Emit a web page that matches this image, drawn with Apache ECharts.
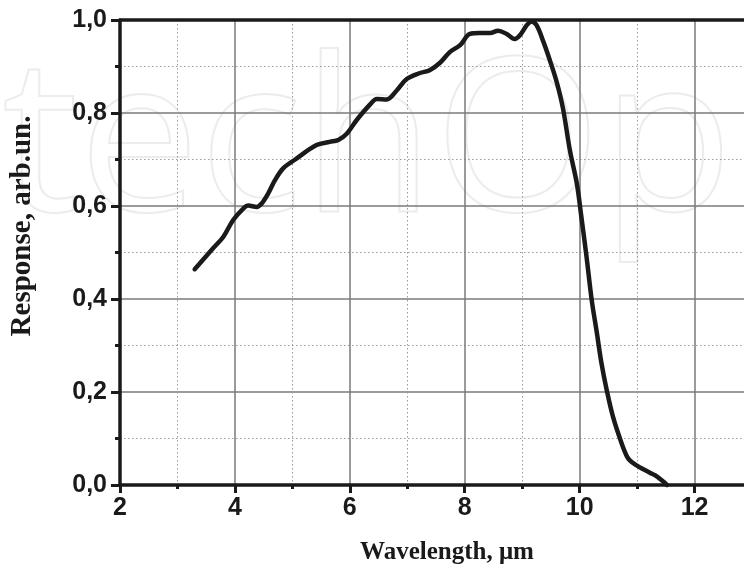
<!DOCTYPE html>
<html>
<head>
<meta charset="utf-8">
<script src="https://cdn.jsdelivr.net/npm/echarts@6/dist/echarts.min.js"></script>
<style>
html,body{margin:0;padding:0;background:#fff;}
#chart{width:744px;height:574px;}
</style>
</head>
<body>
<div id="chart"></div>
<script>
var wavelength = [3.30, 3.62, 3.80, 3.97, 4.15, 4.23, 4.38, 4.47, 4.58, 4.70, 4.84, 5.05, 5.42, 5.65, 5.80, 5.95, 6.12, 6.35, 6.47, 6.64, 6.82, 6.99, 7.22, 7.39, 7.57, 7.74, 7.92, 8.09, 8.26, 8.44, 8.58, 8.73, 8.87, 8.96, 9.08, 9.16, 9.25, 9.37, 9.48, 9.60, 9.71, 9.83, 9.95, 10.03, 10.12, 10.21, 10.30, 10.38, 10.47, 10.58, 10.73, 10.83, 10.90, 11.06, 11.23, 11.31, 11.45, 11.52];
var response = [0.464, 0.509, 0.534, 0.570, 0.595, 0.601, 0.598, 0.606, 0.627, 0.656, 0.681, 0.700, 0.731, 0.738, 0.742, 0.756, 0.785, 0.818, 0.830, 0.829, 0.849, 0.873, 0.886, 0.892, 0.908, 0.931, 0.946, 0.970, 0.972, 0.972, 0.977, 0.970, 0.959, 0.967, 0.989, 0.997, 0.989, 0.953, 0.914, 0.867, 0.810, 0.720, 0.649, 0.577, 0.491, 0.398, 0.327, 0.262, 0.205, 0.147, 0.090, 0.060, 0.050, 0.037, 0.026, 0.021, 0.008, 0.0];
var xTicks = [2, 4, 6, 8, 10, 12];
var yTicks = [0.0, 0.2, 0.4, 0.6, 0.8, 1.0];
var xTitle = 'Wavelength, \u03bcm';
var yTitle = 'Response, arb.un.';

var pts = wavelength.map(function (w, i) { return [w, response[i]]; });
var chart = echarts.init(document.getElementById('chart'));
var labelFont = { fontFamily: 'Liberation Sans, Arial, sans-serif', fontWeight: 'bold', fontSize: 25, color: '#1a1a1a' };
chart.setOption({
  animation: false,
  backgroundColor: '#fff',
  grid: { left: 120, top: 20, bottom: 89, width: 632, containLabel: false, outerBoundsMode: 'none' },
  graphic: [
    { type: 'text', x: 2, y: 42, z: -10, silent: true,
      style: { text: 'techOpen', x: 0, y: 0, fontFamily: 'Open Sans, sans-serif', fontSize: 215, fontWeight: 'normal',
               fill: 'rgba(0,0,0,0)', stroke: '#ececec', lineWidth: 2 } },
    { type: 'text', z: 10, x: 447, y: 553,
      style: { text: xTitle, x: 0, y: 0, textAlign: 'center', textVerticalAlign: 'middle',
               fontFamily: 'Liberation Serif, Times New Roman, serif', fontWeight: 'bold', fontSize: 25, fill: '#1a1a1a' } },
    { type: 'text', z: 10, rotation: Math.PI / 2, x: 23, y: 226,
      style: { text: yTitle, x: 0, y: 0, textAlign: 'center', textVerticalAlign: 'middle',
               fontFamily: 'Liberation Serif, Times New Roman, serif', fontWeight: 'bold', fontSize: 29, fill: '#1a1a1a' } }
  ],
  xAxis: [{
    type: 'value', min: 2, max: 13, interval: 2,
    axisLine: { show: true, onZero: false, lineStyle: { color: '#1a1a1a', width: 3.5 } },
    axisTick: { show: true, inside: false, length: 8, lineStyle: { color: '#1a1a1a', width: 3 } },
    minorTick: { show: true, splitNumber: 2, length: 4, lineStyle: { color: '#1a1a1a', width: 3 } },
    splitLine: { show: true, lineStyle: { color: '#7a7a7a', width: 1.5 } },
    minorSplitLine: { show: true, lineStyle: { color: '#9a9a9a', width: 1, type: [1.5, 2.5] } },
    axisLabel: Object.assign({ margin: 11, formatter: function (v) { return xTicks.indexOf(v) >= 0 ? String(v) : ''; } }, labelFont)
  }, {
    type: 'value', position: 'top', min: 2, max: 13, interval: 2,
    axisLine: { show: true, onZero: false, lineStyle: { color: '#1a1a1a', width: 3.5 } },
    axisTick: { show: false }, axisLabel: { show: false }, splitLine: { show: false }
  }],
  yAxis: {
    type: 'value', min: 0, max: 1, interval: 0.2,
    axisLine: { show: true, onZero: false, lineStyle: { color: '#1a1a1a', width: 3.5 } },
    axisTick: { show: true, inside: false, length: 9, lineStyle: { color: '#1a1a1a', width: 3 } },
    minorTick: { show: true, splitNumber: 2, length: 5, lineStyle: { color: '#1a1a1a', width: 3 } },
    splitLine: { show: true, lineStyle: { color: '#7a7a7a', width: 1.5 } },
    minorSplitLine: { show: true, lineStyle: { color: '#9a9a9a', width: 1, type: [1.5, 2.5] } },
    axisLabel: Object.assign({ margin: 13, formatter: function (v) {
      var m = yTicks.filter(function (t) { return Math.abs(t - v) < 1e-6; });
      return m.length ? m[0].toFixed(1).replace('.', ',') : '';
    } }, labelFont)
  },
  series: [{
    type: 'line', data: pts, smooth: 0.35, showSymbol: false, symbol: 'none',
    lineStyle: { color: '#1a1a1a', width: 4.5, cap: 'round', join: 'round' },
    clip: false, z: 5
  }]
});
</script>
</body>
</html>
